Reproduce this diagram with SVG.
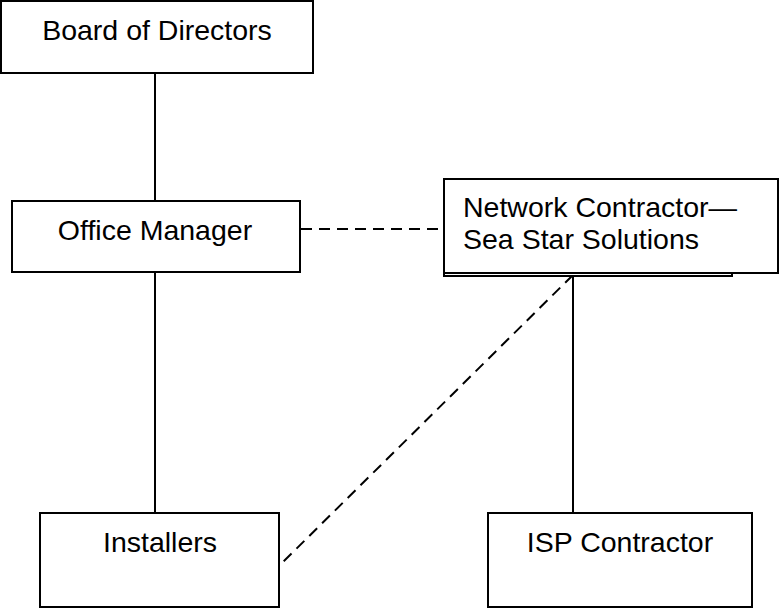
<svg xmlns="http://www.w3.org/2000/svg" width="780" height="609" viewBox="0 0 780 609">
<style>
.box{fill:#fff;stroke:#000;stroke-width:2}
.t{font-family:"Liberation Sans",Arial,sans-serif;font-size:28.5px;fill:#000}
.c{stroke:#000;stroke-width:2;fill:none}
.d{stroke-dasharray:11 7}
</style>
<rect width="780" height="609" fill="#fff"/>
<g id="connectors">
<line class="c" x1="155" y1="73" x2="155" y2="201"/>
<line class="c" x1="155" y1="272" x2="155" y2="513"/>
<line class="c d" x1="301" y1="229" x2="444" y2="229"/>
<line class="c" x1="573" y1="276" x2="573" y2="513"/>
<line class="c d" x1="573" y1="275" x2="283" y2="562"/>
</g>
<g id="board">
<rect class="box" x="1" y="1" width="312" height="72"/>
<text class="t" x="157" y="40" text-anchor="middle">Board of Directors</text>
</g>
<g id="office">
<rect class="box" x="12" y="201" width="288" height="71"/>
<text class="t" x="155" y="240" text-anchor="middle">Office Manager</text>
</g>
<g id="network">
<rect class="box" x="444" y="179" width="288" height="97"/>
<rect class="box" x="444" y="179" width="334" height="94"/>
<text class="t" x="463" y="217">Network Contractor—</text>
<text class="t" x="463" y="249">Sea Star Solutions</text>
</g>
<g id="installers">
<rect class="box" x="40" y="513" width="239" height="94"/>
<text class="t" x="160" y="552" text-anchor="middle">Installers</text>
</g>
<g id="isp">
<rect class="box" x="488" y="513" width="264" height="94"/>
<text class="t" x="620" y="552" text-anchor="middle">ISP Contractor</text>
</g>
</svg>
